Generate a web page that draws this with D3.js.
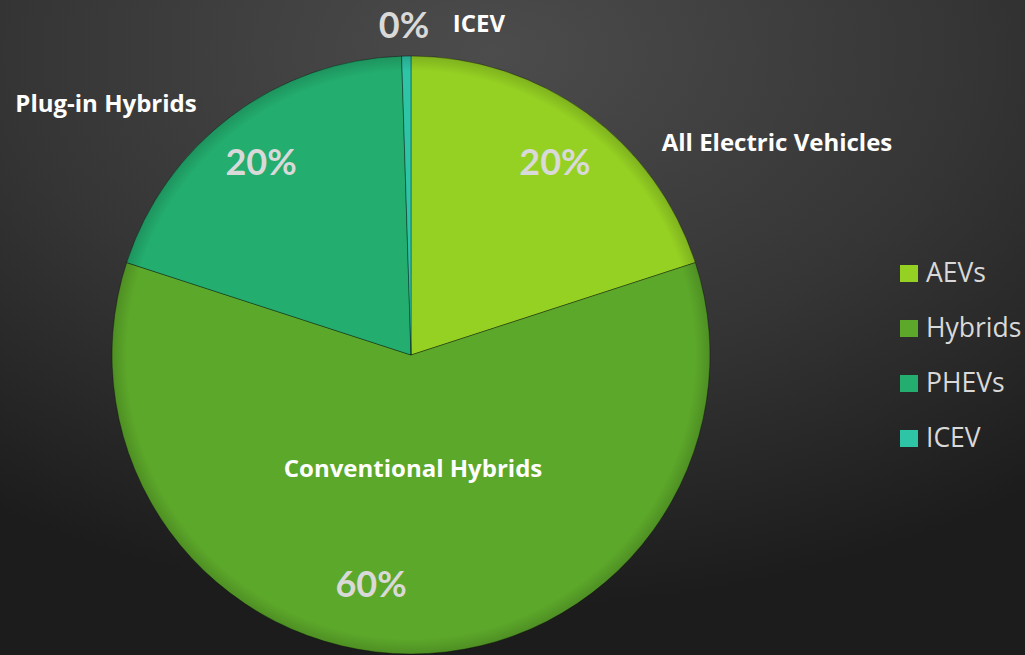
<!DOCTYPE html>
<html>
<head>
<meta charset="utf-8">
<script src="https://cdn.jsdelivr.net/npm/d3@7"></script>
<style>
  html, body { margin: 0; padding: 0; background: #2a2a2a; }
  svg { display: block; }
</style>
</head>
<body>
<svg width="1025" height="655"></svg>
<script>
var categories = ['AEVs', 'Hybrids', 'PHEVs', 'ICEV'];
var labelNames = ['All Electric Vehicles', 'Conventional Hybrids', 'Plug-in Hybrids', 'ICEV'];
var shares = [20, 60, 19.5, 0.5];
var pctLabels = ['20%', '60%', '20%', '0%'];
var colors = ['#95d123', '#5ca82a', '#23ad6e', '#2ec4a6'];

var width = 1025, height = 655;
var cx = 411, cy = 355, radius = 299;

// label placement (baseline), relative to pie centre
var pctPos = [[144, -180], [-40, 242], [-150, -180], [-7, -317]];
var namePos = [[366, -204], [2, 122], [-305, -243], [68, -323]];

var svg = d3.select('svg');
var defs = svg.append('defs');

var bg = defs.append('radialGradient')
  .attr('id', 'bg')
  .attr('cx', '48%').attr('cy', '8%').attr('r', '85%')
  .attr('gradientUnits', 'objectBoundingBox');
bg.append('stop').attr('offset', '0%').attr('stop-color', '#4c4c4c');
bg.append('stop').attr('offset', '55%').attr('stop-color', '#353535');
bg.append('stop').attr('offset', '100%').attr('stop-color', '#1c1c1c');

svg.append('rect')
  .attr('width', width)
  .attr('height', height)
  .attr('fill', 'url(#bg)');

var pie = d3.pie().sort(null).value(function(d) { return d; });
var arc = d3.arc().innerRadius(0).outerRadius(radius);

var arcs = pie(shares);

var g = svg.append('g')
  .attr('transform', 'translate(' + cx + ',' + cy + ')');

g.selectAll('path.slice')
  .data(arcs)
  .enter()
  .append('path')
  .attr('class', 'slice')
  .attr('d', arc)
  .attr('fill', function(d, i) { return colors[i]; })
  .attr('stroke', 'rgba(0,0,0,0.35)')
  .attr('stroke-width', 1);

// soft bevel on the rim
var shade = defs.append('radialGradient')
  .attr('id', 'shade')
  .attr('cx', '50%').attr('cy', '50%').attr('r', '50%');
shade.append('stop').attr('offset', '95%').attr('stop-color', '#000').attr('stop-opacity', 0);
shade.append('stop').attr('offset', '100%').attr('stop-color', '#000').attr('stop-opacity', 0.15);

g.append('circle')
  .attr('r', radius)
  .attr('fill', 'url(#shade)')
  .attr('pointer-events', 'none');

var font = '"Open Sans", sans-serif';

g.selectAll('text.pct')
  .data(arcs)
  .enter()
  .append('text')
  .attr('class', 'pct')
  .attr('x', function(d, i) { return pctPos[i][0]; })
  .attr('y', function(d, i) { return pctPos[i][1]; })
  .attr('text-anchor', 'middle')
  .attr('font-family', 'Lato, sans-serif')
  .attr('font-weight', 'bold')
  .attr('font-size', 36)
  .attr('fill', '#d9d9d9')
  .text(function(d, i) { return pctLabels[i]; });

g.selectAll('text.name')
  .data(arcs)
  .enter()
  .append('text')
  .attr('class', 'name')
  .attr('x', function(d, i) { return namePos[i][0]; })
  .attr('y', function(d, i) { return namePos[i][1]; })
  .attr('text-anchor', 'middle')
  .attr('font-family', font)
  .attr('font-weight', 'bold')
  .attr('font-size', 24)
  .attr('fill', '#ffffff')
  .text(function(d, i) { return labelNames[i]; });

// legend
var legend = svg.append('g')
  .attr('transform', 'translate(900,282)');

var item = legend.selectAll('g')
  .data(categories)
  .enter()
  .append('g')
  .attr('transform', function(d, i) { return 'translate(0,' + (i * 55) + ')'; });

item.append('rect')
  .attr('x', 0)
  .attr('y', -17)
  .attr('width', 18)
  .attr('height', 17)
  .attr('fill', function(d, i) { return colors[i]; });

item.append('text')
  .attr('x', 26)
  .attr('font-family', font)
  .attr('font-size', 26.5)
  .attr('fill', '#d9d9d9')
  .text(function(d) { return d; });
</script>
</body>
</html>
